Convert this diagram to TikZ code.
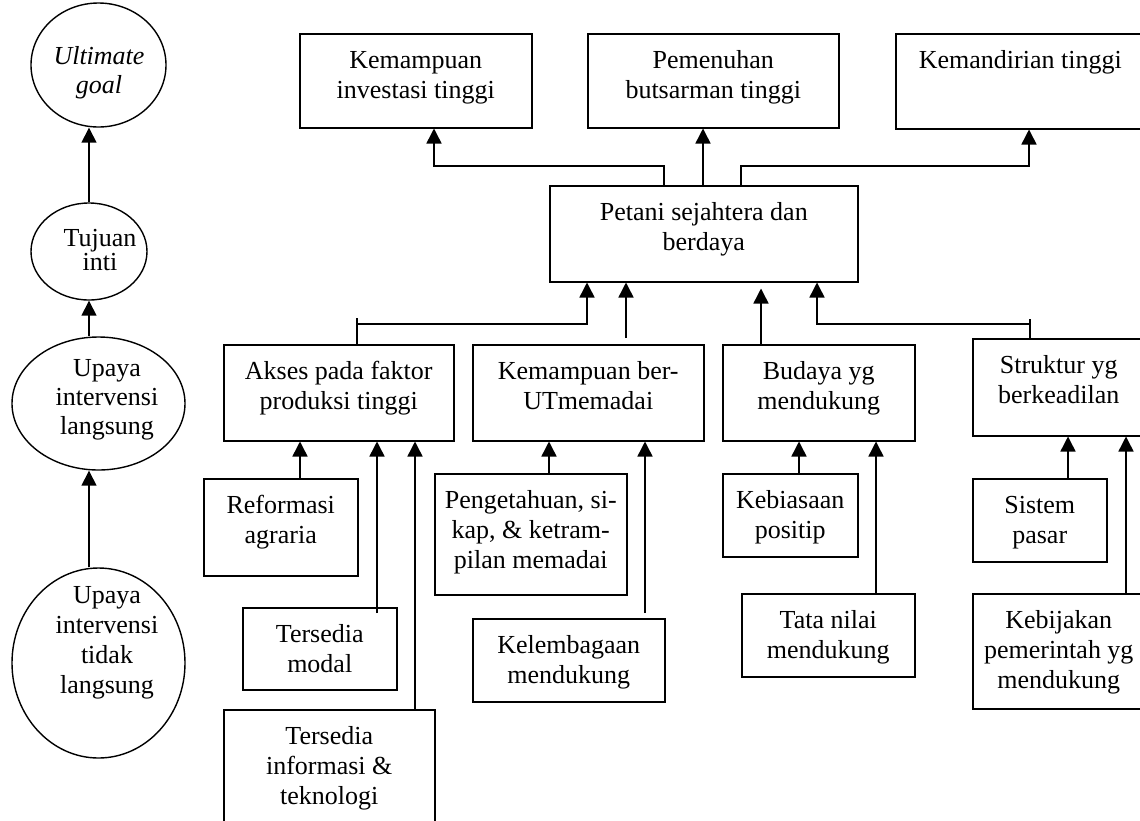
\documentclass[tikz,border=0pt]{standalone}
\usepackage{fontspec}
\setmainfont{Liberation Serif}
\usetikzlibrary{arrows.meta,shapes.geometric}
\newcommand\fs{\rule{0pt}{21pt}}
\tikzset{
  boxst/.style={draw,line width=1.5pt,rectangle,inner sep=0pt,anchor=north west},
  ellst/.style={draw,line width=1.4pt,ellipse,inner sep=0pt},
  txt/.style={inner sep=0pt,align=center,font=\fontsize{26}{30}\selectfont},
  ln/.style={line width=1.5pt},
  arr/.style={line width=1.5pt,-{Triangle[width=15pt,length=15pt]}}
}
\newcommand\bx[7]{%
  \node[boxst,minimum width=#4pt,minimum height=#5pt] (#1) at (#2,#3) {};
  \node[txt,anchor=north] (#1-t) at ([yshift=-14pt]#1.north) {#6\fs #7};
}
\begin{document}
\begin{tikzpicture}[x=1pt,y=-1pt]
\useasboundingbox (0,0) rectangle (1140,820);
\clip (0,0) rectangle (1140,820);
\fill[white] (0,0) rectangle (1140,820);

% left column ellipses
\node[ellst,minimum width=135pt,minimum height=124pt] (ug) at (98.5,65) {};
\node[ellst,minimum width=116pt,minimum height=97pt] (ti) at (89,251.5) {};
\node[ellst,minimum width=173pt,minimum height=133pt] (ul) at (98.5,403.5) {};
\node[ellst,minimum width=173pt,minimum height=190pt] (utl) at (98.5,663) {};
\node[txt,anchor=north,font=\fontsize{26}{29}\selectfont\itshape] (ug-t) at (99,43) {\fs Ultimate\\goal};
\node[txt,anchor=north,font=\fontsize{26}{24}\selectfont] (ti-t) at (100,225) {\fs Tujuan\\inti};
\node[txt,anchor=north,font=\fontsize{26}{29}\selectfont] (ul-t) at (107,355) {\fs Upaya\\intervensi\\langsung};
\node[txt,anchor=north,font=\fontsize{26}{30}\selectfont] (utl-t) at (107,582) {\fs Upaya\\intervensi\\tidak\\langsung};
\draw[arr] (ti.north) -- (ti.north |- ug.south);
\draw[arr] (ti.south |- ul.north) -- (ti.south);
\draw[arr] (ti.south |- utl.north) -- (ti.south |- ul.south);

% boxes
\bx{kinv}{299}{33}{232}{94}{}{Kemampuan\\investasi tinggi}
\bx{pem}{587}{33}{251}{94}{}{Pemenuhan\\butsarman tinggi}
\bx{kmd}{895}{33}{249}{95}{}{Kemandirian tinggi}
\bx{pet}{549}{185}{308}{96}{}{Petani sejahtera dan\\berdaya}
\bx{aks}{223}{344}{230}{96}{}{Akses pada faktor\\produksi tinggi}
\bx{kb}{472}{344}{231}{96}{}{Kemampuan ber-\\UTmemadai}
\bx{bud}{722}{344}{192}{96}{}{Budaya yg\\mendukung}
\bx{str}{972}{338}{172}{97}{}{Struktur yg\\berkeadilan}
\bx{ref}{203}{478}{154}{97}{}{Reformasi\\agraria}
\bx{mod}{242}{607}{154}{82}{}{Tersedia\\modal}
\bx{inf}{223}{709}{211}{130}{}{Tersedia\\informasi \&\\teknologi}
\bx{pen}{434}{473}{192}{121}{}{Pengetahuan, si-\\kap, \& ketram-\\pilan memadai}
\bx{kel}{472}{618}{192}{83}{}{Kelembagaan\\mendukung}
\bx{keb}{722}{473}{135}{83}{}{Kebiasaan\\positip}
\bx{tat}{741}{593}{173}{83}{}{Tata nilai\\mendukung}
\bx{sis}{972}{478}{134}{83}{}{Sistem\\pasar}
\bx{kbj}{972}{593}{172}{115}{}{Kebijakan\\pemerintah yg\\mendukung}

% upper connectors
\draw[arr] ([xshift=115pt]pet.north west) -- ++(0,-19) -| ([xshift=135pt]kinv.south west);
\draw[arr] ([xshift=154pt]pet.north west) -- ([xshift=116pt]pem.south west);
\draw[arr] ([xshift=192pt]pet.north west) -- ++(0,-19) -| ([xshift=134pt]kmd.south west);

% connectors into Petani
\draw[ln] ([xshift=134pt]aks.north west) -- ++(0,-26);
\draw[arr] ([xshift=134pt]aks.north west) ++(0,-20) -| ([xshift=38pt]pet.south west);
\draw[arr] ([xshift=154pt,yshift=6pt]kb.north west) -- ([xshift=77pt]pet.south west);
\draw[arr] ([xshift=39pt]bud.north west) -- ([xshift=212pt,yshift=-6pt]pet.south west);
\draw[ln] ([xshift=58pt]str.north west) -- ++(0,-19);
\draw[arr] ([xshift=58pt]str.north west) ++(0,-14) -| ([xshift=268pt]pet.south west);

% lower connectors
\draw[arr] ([xshift=97pt]ref.north west) -- ([xshift=77pt]aks.south west);
\draw[arr] ([xshift=135pt,yshift=-6pt]mod.north west) -- ([xshift=154pt]aks.south west);
\draw[arr] ([xshift=192pt]inf.north west) -- ([xshift=192pt]aks.south west);
\draw[arr] ([xshift=115pt]pen.north west) -- ([xshift=77pt]kb.south west);
\draw[arr] ([xshift=173pt,yshift=5pt]kel.north west) -- ([xshift=173pt]kb.south west);
\draw[arr] ([xshift=77pt]keb.north west) -- ([xshift=77pt]bud.south west);
\draw[arr] ([xshift=135pt]tat.north west) -- ([xshift=154pt]bud.south west);
\draw[arr] ([xshift=96pt]sis.north west) -- ([xshift=96pt]str.south west);
\draw[arr] ([xshift=154pt]kbj.north west) -- ([xshift=154pt]str.south west);
\end{tikzpicture}
\end{document}
